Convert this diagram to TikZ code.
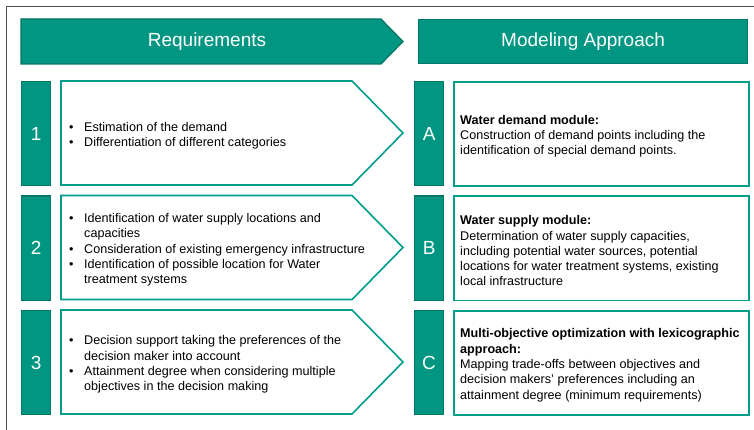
\documentclass[tikz,border=0pt]{standalone}
\usepackage{fontspec}
\setmainfont{Liberation Sans}
\definecolor{kitgreen}{RGB}{0,150,130}
\definecolor{kitdark}{RGB}{0,118,102}
\definecolor{kitline}{RGB}{0,158,138}
\tikzset{
  headbox/.style={fill=kitgreen, draw=kitdark, line width=1.2pt},
  tagbox/.style={fill=kitgreen, draw=kitdark, line width=1.2pt, inner sep=0pt,
    minimum width=29pt, minimum height=104pt, anchor=north west},
  outline/.style={draw=kitline, line width=1.6pt, fill=white},
  whitelabel/.style={text=white, font=\fontsize{19}{23}\selectfont},
  bodytext/.style={font=\fontsize{12.6}{15.3}\selectfont, align=left, anchor=west,
    inner sep=0pt, yshift=-2.5pt},
}
\newcommand{\bul}{\makebox[15pt][l]{\textbullet}}
\begin{document}
\begin{tikzpicture}[x=1pt,y=-1pt]
\useasboundingbox (0,0) rectangle (754,430);
\draw[gray!60!black, line width=0.9pt] (6,430) -- (6,6) -- (754,6);
% headers
\draw[headbox] (21,19) -- (381,19) -- (403,41.5) -- (381,64) -- (21,64) -- cycle;
\node[whitelabel] (headreq) at (207,41.5) {Requirements};
\node[headbox, minimum width=329pt, minimum height=44pt, anchor=north west] (headmod) at (418,19) {};
\node[whitelabel] at (headmod.center) {Modeling Approach};
% rows
\foreach \i/\ltr/\rowtop in {1/A/81,2/B/195.5,3/C/310} {
    \node[tagbox, whitelabel] (num\i) at (21,\rowtop) {\i};
    \draw[outline] (61,\rowtop) -- (352,\rowtop) -- ({403},{\rowtop+52}) -- ({352},{\rowtop+104}) -- ({61},{\rowtop+104}) -- cycle;
    \coordinate (req\i) at ({69},{\rowtop+52});
    \node[tagbox, whitelabel] (let\i) at (414,\rowtop) {\ltr};
    \node[outline, minimum width=295pt, minimum height=104pt, anchor=north west] (mod\i) at (453,\rowtop) {};}
\node[bodytext] (reqtext1) at (req1) {\bul Estimation of the demand\\ \bul Differentiation of different categories};
\node[bodytext] (reqtext2) at (req2) {\bul Identification of water supply locations and\\ \hspace*{15pt}capacities\\ \bul Consideration of existing emergency infrastructure\\ \bul Identification of possible location for Water\\ \hspace*{15pt}treatment systems};
\node[bodytext] (reqtext3) at (req3) {\bul Decision support taking the preferences of the\\ \hspace*{15pt}decision maker into account\\ \bul Attainment degree when considering multiple\\ \hspace*{15pt}objectives in the decision making};
\node[bodytext] (modtext1) at ([xshift=7pt]mod1.west) {\textbf{Water demand module:}\\ Construction of demand points including the\\ identification of special demand points.};
\node[bodytext] (modtext2) at ([xshift=7pt]mod2.west) {\textbf{Water supply module:}\\ Determination of water supply capacities,\\ including potential water sources, potential\\ locations for water treatment systems, existing\\ local infrastructure};
\node[bodytext] (modtext3) at ([xshift=7pt]mod3.west) {\textbf{Multi-objective optimization with lexicographic}\\ \textbf{approach:}\\ Mapping trade-offs between objectives and\\ decision makers’ preferences including an\\ attainment degree (minimum requirements)};
\end{tikzpicture}
\end{document}
